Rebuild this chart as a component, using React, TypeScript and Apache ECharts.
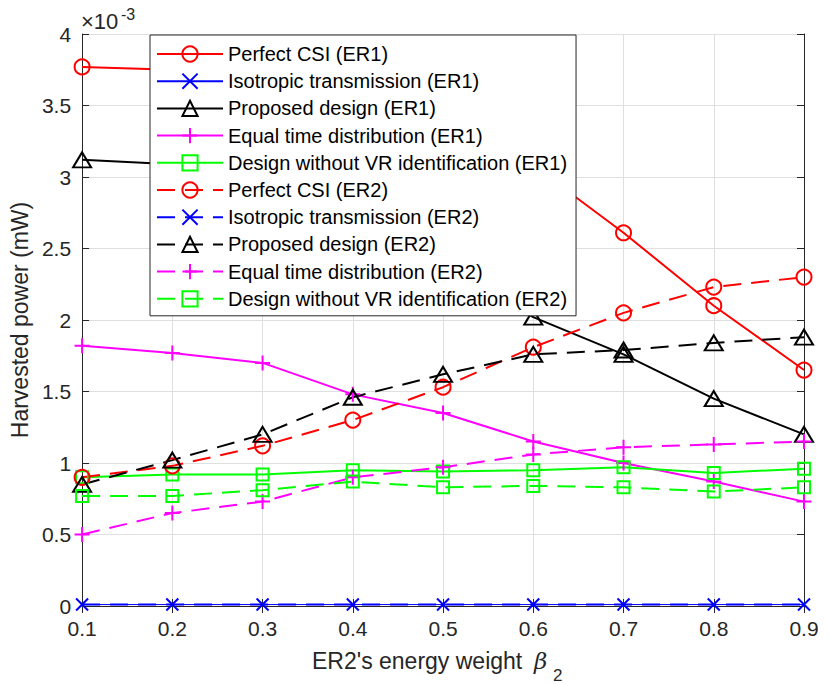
import React, { useEffect, useRef } from 'react';
import * as echarts from 'echarts';

const betas = ['0.1', '0.2', '0.3', '0.4', '0.5', '0.6', '0.7', '0.8', '0.9'];

const perfectCsiER1 = [3.77, 3.75, 3.7, 3.58, 3.38, 3.08, 2.61, 2.1, 1.65];
const isotropicER1 = [0.01, 0.01, 0.01, 0.01, 0.01, 0.01, 0.01, 0.01, 0.01];
const proposedER1 = [3.12, 3.09, 2.98, 2.75, 2.42, 2.02, 1.76, 1.45, 1.2];
const equalTimeER1 = [1.82, 1.77, 1.7, 1.48, 1.35, 1.15, 1.0, 0.87, 0.73];
const noVrER1 = [0.9, 0.92, 0.92, 0.95, 0.94, 0.95, 0.97, 0.93, 0.96];

const perfectCsiER2 = [0.9, 0.98, 1.12, 1.3, 1.53, 1.81, 2.05, 2.23, 2.3];
const isotropicER2 = [0.01, 0.01, 0.01, 0.01, 0.01, 0.01, 0.01, 0.01, 0.01];
const proposedER2 = [0.85, 1.02, 1.2, 1.46, 1.62, 1.76, 1.79, 1.84, 1.88];
const equalTimeER2 = [0.5, 0.65, 0.73, 0.9, 0.97, 1.06, 1.11, 1.13, 1.15];
const noVrER2 = [0.77, 0.77, 0.81, 0.87, 0.83, 0.84, 0.83, 0.8, 0.83];

const seriesNames = [
  'Perfect CSI (ER1)',
  'Isotropic transmission (ER1)',
  'Proposed design (ER1)',
  'Equal time distribution (ER1)',
  'Design without VR identification (ER1)',
  'Perfect CSI (ER2)',
  'Isotropic transmission (ER2)',
  'Proposed design (ER2)',
  'Equal time distribution (ER2)',
  'Design without VR identification (ER2)',
];

const FONT = "'Liberation Sans', Arial, Helvetica, sans-serif";
const AXIS = '#262626';
const PLUS = 'path://M0 5L10 5M5 0L5 10';
const CROSS = 'path://M0 0L10 10M10 0L0 10';

function mk(
  name: string,
  data: number[],
  color: string,
  symbol: string,
  size: number | number[],
  dashed: boolean,
  lw: number
) {
  return {
    name,
    type: 'line',
    data,
    symbol,
    symbolSize: size,
    showSymbol: true,
    clip: false,
    lineStyle: { color, width: lw, type: dashed ? [18, 10] : 'solid' },
    itemStyle: { color: 'transparent', borderColor: color, borderWidth: lw },
    emphasis: { disabled: true },
  };
}

export default function App() {
  const ref = useRef<HTMLDivElement>(null);
  useEffect(() => {
    const chart = echarts.init(ref.current!, null, { renderer: 'svg' });
    const series = [
      mk(seriesNames[0], perfectCsiER1, '#FF0000', 'circle', 15, false, 2),
      mk(seriesNames[1], isotropicER1, '#0000FF', CROSS, 10, false, 1),
      mk(seriesNames[2], proposedER1, '#000000', 'triangle', [18, 15], false, 2),
      mk(seriesNames[3], equalTimeER1, '#FF00FF', PLUS, 15, false, 2),
      mk(seriesNames[4], noVrER1, '#00FF00', 'rect', 12, false, 2),
      mk(seriesNames[5], perfectCsiER2, '#FF0000', 'circle', 15, true, 2),
      mk(seriesNames[6], isotropicER2, '#0000FF', CROSS, 12, true, 2),
      mk(seriesNames[7], proposedER2, '#000000', 'triangle', [18, 15], true, 2),
      mk(seriesNames[8], equalTimeER2, '#FF00FF', PLUS, 15, true, 2),
      mk(seriesNames[9], noVrER2, '#00FF00', 'rect', 12, true, 2),
    ];
    const option: any = {
      animation: false,
      backgroundColor: '#ffffff',
      grid: { left: 79, right: 26, top: 34, bottom: 78, containLabel: false },
      xAxis: [
        {
          type: 'category',
          data: betas,
          boundaryGap: false,
          axisLine: { show: true, lineStyle: { color: AXIS, width: 1 } },
          axisTick: { show: true, inside: true, length: 7, interval: 0, lineStyle: { color: AXIS } },
          axisLabel: { fontSize: 21, color: AXIS, margin: 12, fontFamily: FONT, interval: 0 },
          splitLine: { show: true, interval: 0, lineStyle: { color: '#DFDFDF', width: 1 } },
        },
        {
          type: 'category',
          data: betas,
          boundaryGap: false,
          position: 'top',
          axisLine: { show: true, lineStyle: { color: AXIS, width: 1 } },
          axisTick: { show: true, inside: true, length: 7, interval: 0, lineStyle: { color: AXIS } },
          axisLabel: { show: false },
          splitLine: { show: false },
        },
      ],
      yAxis: [
        {
          type: 'value',
          min: 0,
          max: 4,
          interval: 0.5,
          name: 'Harvested power (mW)',
          nameLocation: 'middle',
          nameGap: 51,
          nameTextStyle: { fontSize: 23, color: AXIS, fontFamily: FONT },
          axisLine: { show: true, lineStyle: { color: AXIS, width: 1 } },
          axisTick: { show: true, inside: true, length: 7, lineStyle: { color: AXIS } },
          axisLabel: { fontSize: 21, color: AXIS, margin: 11, fontFamily: FONT },
          splitLine: { show: true, lineStyle: { color: '#DFDFDF', width: 1 } },
        },
        {
          type: 'value',
          min: 0,
          max: 4,
          interval: 0.5,
          position: 'right',
          axisLine: { show: true, lineStyle: { color: AXIS, width: 1 } },
          axisTick: { show: true, inside: true, length: 7, lineStyle: { color: AXIS } },
          axisLabel: { show: false },
          splitLine: { show: false },
        },
      ],
      legend: {
        orient: 'vertical',
        left: 150,
        top: 35,
        itemWidth: 66,
        itemHeight: 19,
        itemGap: 7.2,
        padding: [9, 9, 7, 6],
        backgroundColor: '#ffffff',
        borderColor: AXIS,
        borderWidth: 1,
        selectedMode: false,
        z: 20,
        data: seriesNames,
        textStyle: { fontSize: 20, color: '#000', fontFamily: FONT },
      },
      graphic: [
        {
          type: 'text',
          left: 312,
          top: 649,
          style: { text: "ER2's energy weight", fontSize: 23, fill: AXIS, fontFamily: FONT },
        },
        {
          type: 'text',
          left: 534,
          top: 649,
          style: { text: 'β', fontSize: 23, fontStyle: 'italic', fill: AXIS, fontFamily: "'DejaVu Serif', serif" },
        },
        {
          type: 'text',
          left: 553,
          top: 667,
          style: { text: '2', fontSize: 17, fill: AXIS, fontFamily: FONT },
        },
        {
          type: 'text',
          left: 81,
          top: 10,
          style: { text: '×10', fontSize: 22, fill: AXIS, fontFamily: FONT },
        },
        {
          type: 'text',
          left: 121,
          top: 6,
          style: { text: '-3', fontSize: 16, fill: AXIS, fontFamily: FONT },
        },
      ],
      series,
    };
    chart.setOption(option);
    return () => chart.dispose();
  }, []);
  return (
    <div
      ref={ref}
      style={{ position: 'fixed', left: 0, top: 0, width: 830, height: 684 }}
    />
  );
}
